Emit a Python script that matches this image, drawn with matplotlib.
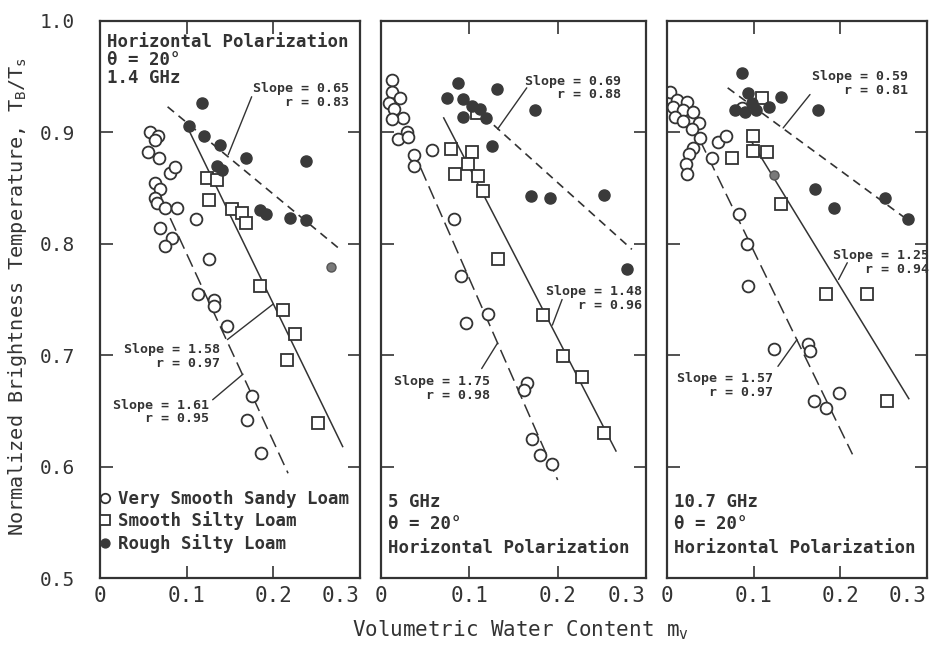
import matplotlib
matplotlib.use("Agg")
import matplotlib.pyplot as plt

plt.rcParams['font.family'] = ['DejaVu Sans Mono', 'DejaVu Sans']
plt.rcParams['mathtext.fontset'] = 'custom'
plt.rcParams['mathtext.rm'] = 'DejaVu Sans Mono'
plt.rcParams['mathtext.it'] = 'DejaVu Sans Mono'

INK = '#333333'

# ---- data ----
series_names = ['Very Smooth Sandy Loam', 'Smooth Silty Loam', 'Rough Silty Loam']
xticks = [0, 0.1, 0.2, 0.3]
xtick_labels = ['0', '0.1', '0.2', '0.3']
yticks = [0.5, 0.6, 0.7, 0.8, 0.9, 1.0]

# 1.4 GHz
p1_sandy_x = [0.058, 0.067, 0.064, 0.055, 0.068, 0.081, 0.086, 0.064, 0.069, 0.064, 0.066, 0.075, 0.089,
              0.111, 0.069, 0.083, 0.075, 0.126, 0.113, 0.132, 0.132, 0.147, 0.175, 0.170, 0.186]
p1_sandy_y = [0.900, 0.897, 0.893, 0.882, 0.877, 0.864, 0.869, 0.855, 0.849, 0.841, 0.837, 0.832, 0.832,
              0.822, 0.814, 0.805, 0.798, 0.786, 0.755, 0.750, 0.744, 0.726, 0.663, 0.642, 0.612]
p1_silty_x = [0.124, 0.135, 0.126, 0.152, 0.164, 0.168, 0.185, 0.211, 0.225, 0.216, 0.251]
p1_silty_y = [0.859, 0.857, 0.839, 0.831, 0.828, 0.819, 0.762, 0.741, 0.719, 0.696, 0.639]
p1_rough_x = [0.118, 0.103, 0.120, 0.139, 0.168, 0.238, 0.135, 0.141, 0.185, 0.191, 0.219, 0.238]
p1_rough_y = [0.926, 0.906, 0.897, 0.889, 0.877, 0.874, 0.870, 0.866, 0.830, 0.827, 0.823, 0.821]
p1_mixed_x = [0.266]
p1_mixed_y = [0.779]
p1_fit_sandy = ([0.081, 0.217], [0.823, 0.594])
p1_fit_silty = ([0.100, 0.280], [0.906, 0.618])
p1_fit_rough = ([0.078, 0.277], [0.923, 0.795])

# 5 GHz
p2_sandy_x = [0.013, 0.012, 0.022, 0.009, 0.015, 0.025, 0.012, 0.030, 0.019, 0.031, 0.037, 0.037, 0.058,
              0.083, 0.091, 0.121, 0.096, 0.165, 0.162, 0.171, 0.180, 0.194]
p2_sandy_y = [0.947, 0.936, 0.931, 0.926, 0.921, 0.913, 0.912, 0.900, 0.894, 0.896, 0.880, 0.870, 0.884,
              0.822, 0.771, 0.737, 0.729, 0.675, 0.669, 0.625, 0.610, 0.602]
p2_silty_x = [0.109, 0.079, 0.103, 0.098, 0.084, 0.110, 0.116, 0.133, 0.183, 0.206, 0.228, 0.253]
p2_silty_y = [0.917, 0.885, 0.882, 0.872, 0.863, 0.861, 0.847, 0.786, 0.736, 0.699, 0.680, 0.630]
p2_rough_x = [0.087, 0.131, 0.075, 0.093, 0.103, 0.112, 0.093, 0.119, 0.174, 0.126, 0.170, 0.191, 0.252, 0.278]
p2_rough_y = [0.944, 0.939, 0.931, 0.930, 0.924, 0.921, 0.914, 0.913, 0.920, 0.888, 0.843, 0.841, 0.844, 0.777]
p2_mixed_x = []
p2_mixed_y = []
p2_fit_sandy = ([0.045, 0.200], [0.868, 0.588])
p2_fit_silty = ([0.071, 0.266], [0.913, 0.614])
p2_fit_rough = ([0.092, 0.284], [0.932, 0.795])

# 10.7 GHz
p3_sandy_x = [0.003, 0.011, 0.023, 0.007, 0.018, 0.030, 0.009, 0.018, 0.037, 0.029, 0.038, 0.030, 0.025, 0.022,
              0.023, 0.052, 0.059, 0.068, 0.086, 0.083, 0.092, 0.094, 0.124, 0.163, 0.165, 0.198, 0.170, 0.184]
p3_sandy_y = [0.936, 0.929, 0.927, 0.923, 0.920, 0.918, 0.914, 0.910, 0.908, 0.903, 0.895, 0.886, 0.881, 0.872,
              0.863, 0.877, 0.891, 0.897, 0.922, 0.827, 0.800, 0.762, 0.706, 0.710, 0.704, 0.666, 0.659, 0.653]
p3_silty_x = [0.110, 0.099, 0.099, 0.115, 0.075, 0.132, 0.184, 0.231, 0.254]
p3_silty_y = [0.931, 0.897, 0.883, 0.882, 0.877, 0.836, 0.755, 0.755, 0.659]
p3_rough_x = [0.087, 0.094, 0.131, 0.174, 0.078, 0.098, 0.103, 0.118, 0.090, 0.171, 0.193, 0.252, 0.278]
p3_rough_y = [0.953, 0.935, 0.932, 0.920, 0.920, 0.926, 0.920, 0.923, 0.918, 0.849, 0.832, 0.841, 0.822]
p3_mixed_x = [0.124]
p3_mixed_y = [0.862]
p3_fit_sandy = ([0.038, 0.214], [0.893, 0.611])
p3_fit_silty = ([0.095, 0.279], [0.895, 0.661])
p3_fit_rough = ([0.070, 0.282], [0.940, 0.819])

# slope / r labels: (text, text anchor, leader start, leader end on the fit line)
p1_notes = [("Slope = 0.65\nr = 0.83", (0.287, 0.933), (0.175, 0.932), (0.148, 0.880)),
            ("Slope = 1.58\nr = 0.97", (0.139, 0.699), (0.147, 0.714), (0.200, 0.746)),
            ("Slope = 1.61\nr = 0.95", (0.126, 0.649), (0.130, 0.660), (0.165, 0.683))]
p2_notes = [("Slope = 0.69\nr = 0.88", (0.272, 0.940), (0.165, 0.940), (0.132, 0.903)),
            ("Slope = 1.48\nr = 0.96", (0.296, 0.751), (0.205, 0.750), (0.194, 0.727)),
            ("Slope = 1.75\nr = 0.98", (0.123, 0.670), (0.114, 0.688), (0.132, 0.711))]
p3_notes = [("Slope = 0.59\nr = 0.81", (0.278, 0.944), (0.165, 0.934), (0.134, 0.904)),
            ("Slope = 1.25\nr = 0.94", (0.302, 0.783), (0.208, 0.783), (0.198, 0.768)),
            ("Slope = 1.57\nr = 0.97", (0.122, 0.673), (0.128, 0.690), (0.150, 0.714))]

panels = [
    (p1_sandy_x, p1_sandy_y, p1_silty_x, p1_silty_y, p1_rough_x, p1_rough_y, p1_mixed_x, p1_mixed_y,
     p1_fit_sandy, p1_fit_silty, p1_fit_rough, p1_notes),
    (p2_sandy_x, p2_sandy_y, p2_silty_x, p2_silty_y, p2_rough_x, p2_rough_y, p2_mixed_x, p2_mixed_y,
     p2_fit_sandy, p2_fit_silty, p2_fit_rough, p2_notes),
    (p3_sandy_x, p3_sandy_y, p3_silty_x, p3_silty_y, p3_rough_x, p3_rough_y, p3_mixed_x, p3_mixed_y,
     p3_fit_sandy, p3_fit_silty, p3_fit_rough, p3_notes),
]

fig = plt.figure(figsize=(9.45, 6.51), dpi=100)
W, H = 945.0, 651.0
lefts = [100, 381, 667]
widths = [260, 265, 260]
top_px, bot_px = 21, 578

axes = []
for i, (sx, sy, qx, qy, rx, ry, mx, my, fs, fq, fr, notes) in enumerate(panels):
    ax = fig.add_axes([lefts[i] / W, 1 - bot_px / H, widths[i] / W, (bot_px - top_px) / H])
    axes.append(ax)

    ax.plot(*fs, color=INK, lw=1.1, ls=(0, (9, 4)))
    ax.plot(*fq, color=INK, lw=1.1, ls='-')
    ax.plot(*fr, color=INK, lw=1.2, ls=(0, (5, 3.5)))

    h1, = ax.plot(sx, sy, 'o', ms=8.5, mfc='white', mec=INK, mew=1.3, ls='none')
    h2, = ax.plot(qx, qy, 's', ms=8.5, mfc='white', mec=INK, mew=1.3, ls='none')
    h3, = ax.plot(rx, ry, 'o', ms=8, mfc='#3a3a3a', mec='#3a3a3a', ls='none')
    ax.plot(mx, my, 'o', ms=6.5, mfc='#7a7a7a', mec='#555555', mew=1.0, ls='none')

    for text, txy, l0, l1 in notes:
        ax.text(txy[0], txy[1], text, ha='right', va='center', multialignment='right',
                fontsize=9.5, fontweight='bold', color=INK, linespacing=1.05)
        ax.annotate('', xy=l1, xytext=l0,
                    arrowprops=dict(arrowstyle='-', color=INK, lw=1.0, shrinkA=0, shrinkB=0))

    ax.set_xlim(0, 0.3)
    ax.set_ylim(0.5, 1.0)
    ax.set_xticks(xticks)
    ax.set_xticklabels(xtick_labels, fontsize=15, color=INK)
    ax.set_yticks(yticks)
    ax.tick_params(direction='in', length=9, width=1.2, color=INK, top=True, right=True)
    ax.tick_params(axis='x', pad=6)
    ax.tick_params(axis='y', pad=18)
    if i > 0:
        ax.tick_params(labelleft=False)
    else:
        ax.set_yticklabels([f"{v:.1f}" for v in yticks], fontsize=14, color=INK)
    ax.get_xticklabels()[-1].set_ha('right')
    ax.get_xticklabels()[0].set_ha('center')
    for s in ax.spines.values():
        s.set_linewidth(1.6)
        s.set_color(INK)

    if i == 0:
        ax.text(0.027, 0.962, "Horizontal Polarization", transform=ax.transAxes, fontsize=12.5,
                fontweight='bold', color=INK, va='center', ha='left')
        ax.text(0.027, 0.930, "θ = 20°", transform=ax.transAxes, fontsize=12.5,
                fontweight='bold', color=INK, va='center', ha='left')
        ax.text(0.027, 0.898, "1.4 GHz", transform=ax.transAxes, fontsize=12.5,
                fontweight='bold', color=INK, va='center', ha='left')
        ax.legend([h1, h2, h3], series_names, loc='lower left', bbox_to_anchor=(0.0, 0.045),
                  frameon=False, prop={'size': 12.5, 'weight': 'bold'}, labelcolor=INK,
                  handlelength=0.6, handletextpad=0.45, labelspacing=0.2, borderpad=0,
                  borderaxespad=0, markerscale=0.8)
    else:
        freq = "5 GHz" if i == 1 else "10.7 GHz"
        for txt, yy in [(freq, 0.136), ("θ = 20°", 0.097), ("Horizontal Polarization", 0.054)]:
            ax.text(0.028, yy, txt, transform=ax.transAxes, fontsize=12.5,
                    fontweight='bold', color=INK, va='center', ha='left')

fig.text(0.019, 0.545, r"Normalized Brightness Temperature, $\mathrm{T_B/T_s}$", rotation=90,
         ha='center', va='center', fontsize=14.5, color=INK)
fig.text(0.551, 0.032, r"Volumetric Water Content $\mathrm{m_v}$", ha='center', va='center',
         fontsize=15, color=INK)

fig.savefig("out.png", dpi=100, facecolor='white')
